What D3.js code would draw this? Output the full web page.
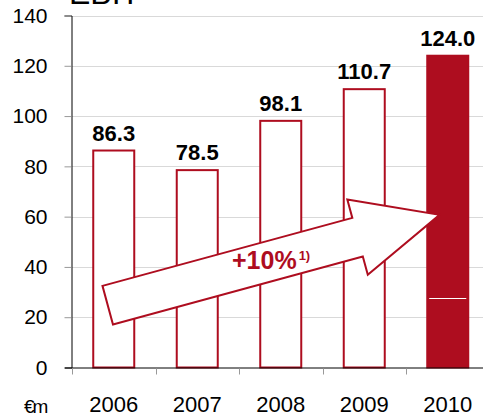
<!DOCTYPE html>
<html>
<head>
<meta charset="utf-8">
<script src="https://cdn.jsdelivr.net/npm/d3@7"></script>
<style>
  html, body { margin: 0; padding: 0; background: #fff; }
  svg { display: block; font-family: "Liberation Sans", Arial, sans-serif; }
</style>
</head>
<body>
<svg id="chart" width="483" height="416"></svg>
<script>
// EBIT by year, in € million
const years = ["2006", "2007", "2008", "2009", "2010"];
const ebit = [86.3, 78.5, 98.1, 110.7, 124.0];
const yTicks = [0, 20, 40, 60, 80, 100, 120, 140];
const highlightYear = "2010";
const growthLabel = "+10%";
const growthNote = "1)";
// growth arrow endpoints: year, position within the band (fraction), value
const arrowFrom = { year: "2006", frac: 0.36, value: 24.8 };
const arrowTo = { year: "2010", frac: 0.31, value: 60.7 };

const red = "#AE0D1F";
const font = "'Liberation Sans', Arial, sans-serif";
const svg = d3.select("#chart");

const x = d3.scaleBand()
  .domain(years)
  .range([72, 489.5])
  .paddingInner(0.485)
  .paddingOuter(0.2425);

const y = d3.scaleLinear().domain([0, 140]).range([367.5, 15.5]);

// title (partly above the frame)
svg.append("text")
  .attr("x", 69).attr("y", 4)
  .attr("font-size", 32)
  .attr("fill", "#000")
  .text("EBIT");

// horizontal gridlines
svg.append("g").selectAll("line")
  .data(yTicks.filter(d => d > 0))
  .join("line")
  .attr("x1", 71).attr("x2", 483)
  .attr("y1", d => Math.round(y(d)) + 0.5)
  .attr("y2", d => Math.round(y(d)) + 0.5)
  .attr("stroke", "#d9d9d9").attr("stroke-width", 1);

// y axis
const yAxis = svg.append("g")
  .attr("transform", "translate(71.5,0)")
  .call(d3.axisLeft(y).tickValues(yTicks).tickSize(7).tickPadding(17));
yAxis.select(".domain").attr("stroke", "#000");
yAxis.selectAll(".tick line").attr("stroke", "#999");
yAxis.selectAll(".tick text")
  .attr("font-size", 21).attr("font-family", font)
  .attr("fill", "#000");

// bars
const barsG = svg.append("g");
barsG.selectAll("rect")
  .data(years.map((yr, i) => ({ yr, v: ebit[i] })))
  .join("rect")
  .attr("x", d => x(d.yr) + 1)
  .attr("y", d => y(d.v))
  .attr("width", x.bandwidth() - 2)
  .attr("height", d => y(0) - y(d.v))
  .attr("fill", d => d.yr === highlightYear ? red : "#fff")
  .attr("stroke", red)
  .attr("stroke-width", 2);

// thin white rule inside the highlighted bar
svg.append("line")
  .attr("x1", x(highlightYear) + 3).attr("x2", x(highlightYear) + x.bandwidth() - 3)
  .attr("y1", Math.round(y(27.6)) + 0.5).attr("y2", Math.round(y(27.6)) + 0.5)
  .attr("stroke", "#fff").attr("stroke-width", 1);

// value labels
svg.append("g").selectAll("text")
  .data(years.map((yr, i) => ({ yr, v: ebit[i] })))
  .join("text")
  .attr("x", d => x(d.yr) + x.bandwidth() / 2)
  .attr("y", d => y(d.v) - 10)
  .attr("text-anchor", "middle")
  .attr("font-size", 22).attr("font-weight", "bold")
  .attr("fill", "#000")
  .text(d => d.v.toFixed(1));

// x axis line and tick marks at band boundaries
const x0 = x.range()[0];
svg.append("line")
  .attr("x1", 65).attr("x2", 483)
  .attr("y1", y(0) + 0.5).attr("y2", y(0) + 0.5)
  .attr("stroke", "#000").attr("stroke-width", 1);
svg.append("g").selectAll("line")
  .data(d3.range(years.length))
  .join("line")
  .attr("x1", i => Math.round(x0 + i * x.step()) + 0.5)
  .attr("x2", i => Math.round(x0 + i * x.step()) + 0.5)
  .attr("y1", y(0) + 1).attr("y2", y(0) + 7)
  .attr("stroke", "#999");

// year labels
svg.append("g").selectAll("text")
  .data(years)
  .join("text")
  .attr("x", d => x(d) + x.bandwidth() / 2)
  .attr("y", 412)
  .attr("text-anchor", "middle")
  .attr("font-size", 22)
  .attr("fill", "#000")
  .text(d => d);

// unit
svg.append("text")
  .attr("x", 24).attr("y", 413)
  .attr("font-size", 19)
  .attr("letter-spacing", -2)
  .attr("fill", "#000")
  .text("€m");

// growth arrow
const p0 = [x(arrowFrom.year) + arrowFrom.frac * x.bandwidth(), y(arrowFrom.value)];
const p1 = [x(arrowTo.year) + arrowTo.frac * x.bandwidth(), y(arrowTo.value)];
const dx = p1[0] - p0[0], dy = p1[1] - p0[1];
const len = Math.hypot(dx, dy);
const ux = dx / len, uy = dy / len;   // along the arrow
const nx = -uy, ny = ux;              // normal
const shaftHalf = 20, headHalf = 39, headLen = 85;
const hb = [p1[0] - ux * headLen, p1[1] - uy * headLen];
const pt = (b, s) => [b[0] + nx * s, b[1] + ny * s];
const arrowPts = [
  pt(p0, -shaftHalf), pt(hb, -shaftHalf), pt(hb, -headHalf),
  p1,
  pt(hb, headHalf), pt(hb, shaftHalf), pt(p0, shaftHalf)
];
svg.append("path")
  .attr("d", d3.line()(arrowPts) + "Z")
  .attr("fill", "#fff")
  .attr("stroke", red)
  .attr("stroke-width", 2)
  .attr("stroke-linejoin", "miter");

const lbl = svg.append("text")
  .attr("x", 232).attr("y", 269)
  .attr("font-size", 25).attr("font-weight", "bold")
  .attr("fill", red);
lbl.append("tspan").text(growthLabel);
lbl.append("tspan")
  .attr("dx", 2).attr("dy", -9)
  .attr("font-size", 13)
  .text(growthNote);
</script>
</body>
</html>
